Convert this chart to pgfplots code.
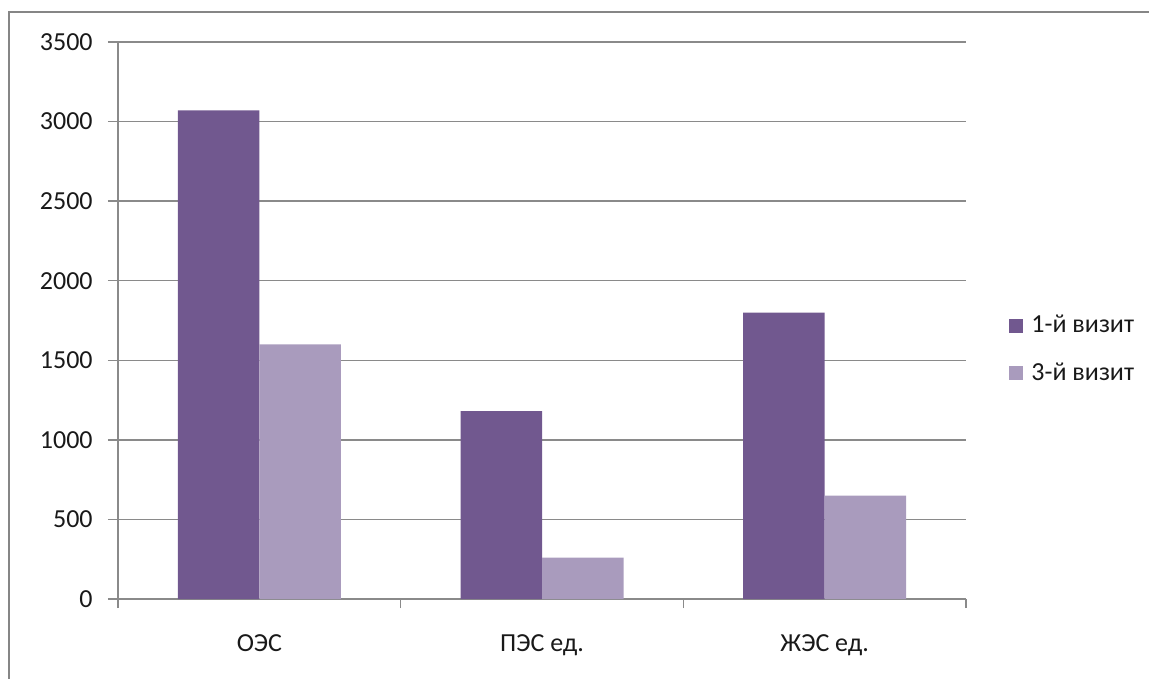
\documentclass[border=0pt]{standalone}
\usepackage{pgfplots}
\pgfplotsset{compat=1.18}
\usepackage{fontspec}
\setmainfont{Carlito}
\definecolor{darkp}{HTML}{71588F}
\definecolor{lightp}{HTML}{A99BBD}
\definecolor{gridg}{HTML}{8A8A8A}
\definecolor{frameg}{HTML}{868686}
\begin{document}
\fontsize{13bp}{15.6bp}\selectfont
\begin{tikzpicture}
\draw[frameg, line width=1bp] (4.5bp,-20bp) rectangle (600bp,333.5bp);
\begin{axis}[
  at={(59bp,40bp)}, anchor=south west,
  scale only axis, width=424bp, height=278.5bp,
  ybar=0pt, bar width=40.75bp,
  xmin=-0.5, xmax=2.5, ymin=0, ymax=3500,
  xtick={0,1,2}, xticklabels={ОЭС, ПЭС ед., ЖЭС ед.},
  minor xtick={-0.5,0.5,1.5,2.5},
  ytick={0,500,...,3500},
  axis x line*=bottom, axis y line*=left,
  axis line style={draw=gridg, line width=0.75bp, -},
  tick align=outside,
  major tick length=5bp, minor tick length=4.5bp,
  major x tick style={draw=none},
  minor x tick style={draw=gridg, line width=0.75bp},
  major y tick style={draw=gridg, line width=0.75bp},
  ymajorgrids, grid style={draw=gridg, line width=0.75bp},
  /pgf/number format/assume math mode=true,
  /pgf/number format/1000 sep={},
  ticklabel style={font=\fontsize{13bp}{15.6bp}\selectfont, text=black!90},
  yticklabel style={anchor=east, inner sep=0pt, xshift=-7.5bp},
  xticklabel style={anchor=base, inner sep=0pt, yshift=-21bp},
  legend style={at={(1.0507,0.448)}, anchor=west, draw=none, fill=none,
    inner sep=0pt, nodes={inner sep=0pt, text=black!90, font=\fontsize{13bp}{15.6bp}\selectfont}, row sep=13bp,
    /tikz/every odd column/.append style={column sep=4bp}},
  legend cell align=left,
  legend image code/.code={\fill[#1] (0bp,-3.5bp) rectangle (7bp,3.5bp);},
  clip=false,
]
\addplot[fill=darkp, draw=none] coordinates {(0,3070) (1,1180) (2,1800)};
\addplot[fill=lightp, draw=none] coordinates {(0,1600) (1,260) (2,650)};
\legend{1-й визит, 3-й визит}
\end{axis}
\pgfresetboundingbox
\path[use as bounding box] (0,0) rectangle (574.5bp,339.5bp);
\end{tikzpicture}
\end{document}
